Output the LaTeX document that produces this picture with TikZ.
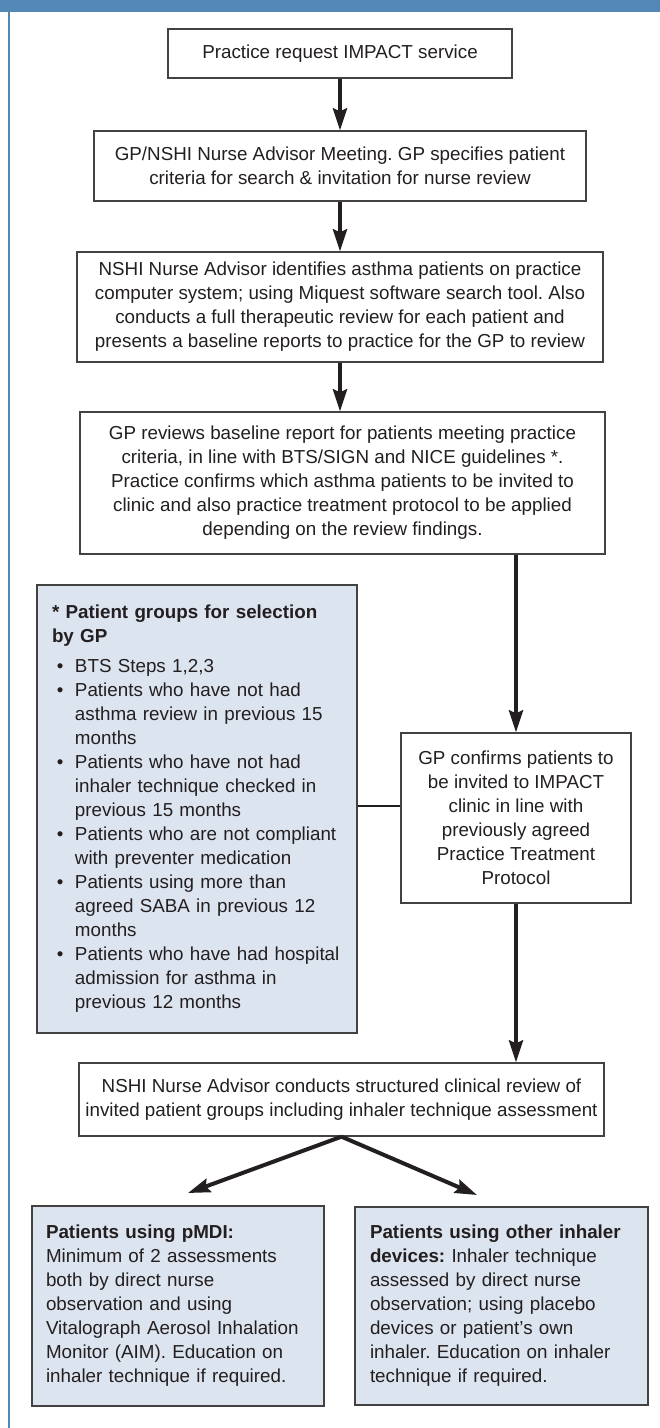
\documentclass[tikz,border=0pt]{standalone}
\usepackage{fontspec}
\setmainfont{Liberation Sans}
\usetikzlibrary{arrows.meta}
\definecolor{frameblue}{HTML}{5388B6}
\definecolor{boxfill}{HTML}{DCE4F0}
\definecolor{ink}{HTML}{231F20}
\frenchspacing
\begin{document}
\begin{tikzpicture}[x=1pt,y=-1pt,
  every node/.style={font=\fontsize{18.8}{24}\selectfont\frenchspacing, text=ink},
  whitebox/.style={draw=ink!85, line width=1.3pt, fill=white, inner sep=0pt, align=center},
  bluebox/.style={draw=ink!85, line width=1.3pt, fill=boxfill, inner ysep=0pt, align=left},
  arr/.style={draw=ink, line width=4pt, -{Stealth[length=22pt,width=14pt,inset=3pt]}},
  conn/.style={draw=ink, line width=2.6pt}]
\useasboundingbox (0,0) rectangle (660,1428);
\fill[white] (0,0) rectangle (660,1428);
\fill[frameblue] (0,0) rectangle (660,12);
\fill[frameblue] (7.8,12) rectangle (10.4,1428);

\node[whitebox, minimum width=344, minimum height=49] (b1) at (340,53.5) {Practice request IMPACT service};
\node[whitebox, minimum width=492, minimum height=70] (b2) at (340,166) {GP/NSHI Nurse Advisor Meeting. GP specifies patient\\criteria for search \& invitation for nurse review};
\node[whitebox, minimum width=526, minimum height=110] (b3) at (340,307) {NSHI Nurse Advisor identifies asthma patients on practice\\computer system; using Miquest software search tool. Also\\conducts a full therapeutic review for each patient and\\presents a baseline reports to practice for the GP to review};
\node[whitebox, minimum width=525, minimum height=142] (b4) at (342.5,483) {GP reviews baseline report for patients meeting practice\\criteria, in line with BTS/SIGN and NICE guidelines *.\\Practice confirms which asthma patients to be invited to\\clinic and also practice treatment protocol to be applied\\depending on the review findings.};
\node[bluebox, inner xsep=15pt, text width=290pt, minimum height=448] (groups) at (197,809) {%
\begin{tabular}{@{}p{23pt}@{}l@{}}
\multicolumn{2}{@{}l@{}}{\textbf{* Patient groups for selection}}\\
\multicolumn{2}{@{}l@{}}{\textbf{by GP}}\\[6pt]
\hspace{5pt}• & BTS Steps 1,2,3\\
\hspace{5pt}• & Patients who have not had\\
 & asthma review in previous 15\\
 & months\\
\hspace{5pt}• & Patients who have not had\\
 & inhaler technique checked in\\
 & previous 15 months\\
\hspace{5pt}• & Patients who are not compliant\\
 & with preventer medication\\
\hspace{5pt}• & Patients using more than\\
 & agreed SABA in previous 12\\
 & months\\
\hspace{5pt}• & Patients who have had hospital\\
 & admission for asthma in\\
 & previous 12 months
\end{tabular}};
\node[whitebox, minimum width=230, minimum height=170] (b6) at (516,818) {GP confirms patients to\\be invited to IMPACT\\clinic in line with\\previously agreed\\Practice Treatment\\Protocol};
\node[whitebox, minimum width=525, minimum height=73] (b7) at (341.5,1099.5) {NSHI Nurse Advisor conducts structured clinical review of\\invited patient groups including inhaler technique assessment};
\node[bluebox, inner xsep=14pt, text width=264pt, minimum height=200] (b8) at (178,1306) {\textbf{Patients using pMDI:}\\Minimum of 2 assessments\\both by direct nurse\\observation and using\\Vitalograph Aerosol Inhalation\\Monitor (AIM). Education on\\inhaler technique if required.};
\node[bluebox, inner xsep=15pt, text width=263pt, minimum height=198] (b9) at (501.5,1306) {\textbf{Patients using other inhaler}\\\textbf{devices:} Inhaler technique\\assessed by direct nurse\\observation; using placebo\\devices or patient’s own\\inhaler. Education on inhaler\\technique if required.};

\coordinate (tipL) at (188,1193);
\coordinate (tipR) at (477,1195);
\coordinate (j) at ([yshift=12pt]b6.west);

\draw[arr] (b1.south) -- (b2.north);
\draw[arr] (b2.south) -- (b3.north);
\draw[arr] (b3.south) -- (b3.south |- b4.north);
\draw[arr] (b6.north |- b4.south) -- (b6.north);
\draw[arr] (b6.south) -- (b6.south |- b7.north);
\draw[conn] (j) -- (j -| groups.east);
\draw[arr] (b7.south) -- (tipL);
\draw[arr] (b7.south) -- (tipR);
\end{tikzpicture}
\end{document}
